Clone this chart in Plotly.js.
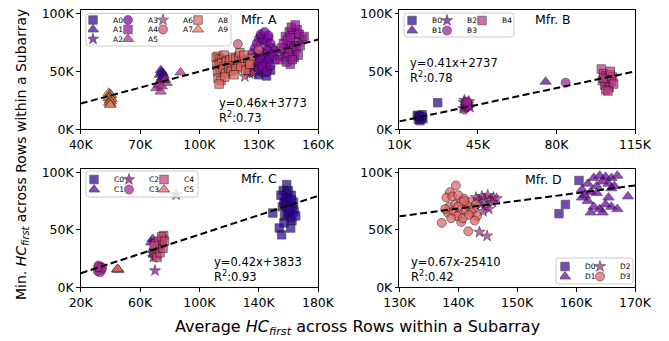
<!DOCTYPE html>
<html><head><meta charset="utf-8">
<script src="https://cdn.plot.ly/plotly-3.0.1.min.js"></script>
<style>html,body{margin:0;padding:0;background:#fff}#chart{width:669px;height:341px}</style>
</head><body><div id="chart"></div>
<script>
// all values in thousands (K)
// ---------- Mfr. A ----------
const A0_x = [128.5,130.0,131.5,133.0,134.5,136.0,129.0,131.0,133.5,135.5,130.5,132.5,134.0];
const A0_y = [50.0,47.0,52.0,49.0,54.0,51.0,56.0,58.0,57.0,60.0,62.0,64.0,46.0];
const A1_x = [80.5,81.0,81.5,80.0,82.0,81.2,80.8,81.8];
const A1_y = [51.0,49.5,48.0,47.0,46.0,44.5,43.0,42.0];
const A2_x = [124.0,125.5,127.5,126.5,128.5,123.5];
const A2_y = [52.0,48.0,55.0,59.0,51.0,57.0];
const A3_x = [127,128,129,130,131,132,133,134,135,136,137,138,128.5,130.5,132.5,134.5,136.5,129.5,131.5,133.5,135.5,137.5,130,132,134,136,131,133,135,139];
const A3_y = [66,70,74,78,80,77,72,76,79,74,70,68,62,64,66,68,65,58,60,56,61,63,52,54,50,55,82,84,81,60];
const A4_x = [141,142,143,144,145,146,147,148,149,150,151,152,143.5,145.5,147.5,149.5,144,146,148,150,142.5,144.5,146.5,148.5,150.5,145,147,146,153,141.5];
const A4_y = [60,64,68,62,70,74,66,72,70,76,72,78,80,84,82,86,58,56,62,64,74,77,88,90,82,66,60,79,80,70];
const A5_x = [78.3,80.5,83.4,79.5,82.5,81.0,90.5];
const A5_y = [35.5,32.5,40.0,38.5,43.0,37.0,49.0];
const A6_x = [123.0,124.5,126.0,125.0,127.0];
const A6_y = [45.5,50.0,53.0,56.5,48.5];
const A7_x = [119.5,130.0,126.0,122.5];
const A7_y = [73.5,68.5,60.0,58.0];
const A8_x = [108.5,109.5,110.5,111.5,112.5,113.5,108.8,110.0,111.2,112.4,113.6,114.8,109.2,110.6,112.0,113.2,115.0,116.5,118.0,119.5,115.5,117.0,118.5,120.0,121.5,123.0,124.5,126.0,116.0,118.5,121.0,123.5,125.5,109.5,111.0,112.8,110.0,120.5,122.5,117.5];
const A8_y = [62,63,61,60,64,59,55,56,57,54,58,55,50,49,52,48,53,55,56,57,60,62,61,63,60,59,58,61,50,52,54,51,56,44,42,45,39,66,64,47];
const A9_x = [54.2,54.8,55.3,54.5,55.0,54.0,55.6,54.7,55.2,54.4,55.0,54.9];
const A9_y = [31.5,30.5,29.5,28.5,27.5,27.0,26.0,25.0,24.0,23.0,22.0,21.0];
// ---------- Mfr. B ----------
const B0_x = [18.0,19.0,20.0,19.5,18.5,20.5,19.2,18.8,20.2,27.1];
const B0_y = [12.0,11.0,10.5,9.5,8.5,9.0,7.5,11.5,12.5,22.9];
const B1_x = [75.2];
const B1_y = [41.0];
const B2_x = [38.5,39.5,40.5,41.0,39.0,40.0,41.5,38.8];
const B2_y = [18,20,22,24,25,21,19,23];
const B3_x = [39.0,40.0,41.0,39.5,40.5,40.2,84.1];
const B3_y = [17,19,21,23,20,24,40.2];
const B4_x = [100.0,101.0,102.0,103.0,104.0,105.0,100.5,102.5,104.5,101.5,103.5,105.5,102.0,103.0,101.0,104.0];
const B4_y = [52.0,48.0,46.0,44.0,47.0,45.0,42.0,40.0,41.0,38.0,36.0,39.0,34.0,33.0,44.0,50.0];
// ---------- Mfr. C ----------
const C0_x = [149.5,155.5,153.9,161.6,158.9,156,157,158,159,160,161,162,163,164,157.5,159.5,161.5,163.5,156.5,158.5,160.5,162.5,157,159,161,160,158,162,165,155];
const C0_y = [64.6,45.6,51.5,51.5,89.3,70,74,78,82,76,72,80,68,66,62,64,60,74,84,70,66,58,56,78,68,84,74,76,62,80];
const C1_x = [67.5,68.5,70.0];
const C1_y = [39.0,42.0,35.0];
const C2_x = [70.1,84.3,68.0,69.0];
const C2_y = [14.5,80.5,30.0,26.0];
const C3_x = [31.5,32.5,33.5,34.0,32.0,33.0,34.5,31.8];
const C3_y = [14,16,18,15,19,13,17,17.5];
const C4_x = [69,70,71,72,73,74,75,76,70.5,72.5,74.5,71.5,73.5,75.5,69.5,76.5];
const C4_y = [30,32,28,34,36,38,42,45,38,40,44,26,30,34,36,40];
const C5_x = [44.5,45.5,45.0];
const C5_y = [15.5,15.0,16.0];
// ---------- Mfr. D ----------
const D0_x = [160.5,158.2,157.1];
const D0_y = [92.8,72.0,64.0];
const D1_x = [161,162,163,164,165,166,167,161.5,162.5,163.5,164.5,165.5,166.5,162,163,164,165,166,167,161,163.5,165.5,168.8,162.5,164.5,166];
const D1_y = [85,90,95,97,96,95,97,80,83,88,92,90,88,75,70,68,72,70,68,78,82,78,79,65,65,86];
const D2_x = [143.0,143.5,144.0,144.5,145.0,145.5,146.0,146.5,143.8,144.8,145.8,144.2,145.2,143.6,144.9];
const D2_y = [78,76,79,77,80,76,78,77,72,70,74,66,68,48,44.6];
const D3_x = [139.6,138.6,137.2,140.5,141.7,138.0,139.0,140.0,141.0,142.0,143.0,138.5,139.5,140.5,141.5,142.5,138.2,139.2,140.2,141.2,142.2,143.2,139.8,140.8,141.8,138.8,137.8,142.8,140.0,141.0];
const D3_y = [88.5,82.7,56.0,56.8,48.7,78,79,80,77,74,72,70,72,74,71,68,65,66,64,67,65,62,62,60,63,60,68,58,70,75];

// fits: slope, intercept (raw units), R^2
const FIT_A = [0.46, 3773, 0.73];
const FIT_B = [0.41, 2737, 0.78];
const FIT_C = [0.42, 3833, 0.93];
const FIT_D = [0.67, -25410, 0.42];

// tick labels
const A_xticks = [40,70,100,130,160];
const B_xticks = [10,45,80,115];
const C_xticks = [20,60,100,140,180];
const D_xticks = [130,140,150,160,170];
const Y_ticks = [0,50,100];

// colours (plasma samples)
const A_colors = ['#2d0596','#49039f','#6600a7','#8205a7','#9a159f','#b12a90','#c43f7f','#d4526f','#e36760','#ef7e50'];
const B_colors = ['#2d0596','#5402a3','#7e03a8','#a11b9b','#bf3984'];
const C_colors = ['#2d0596','#5a01a5','#8808a6','#ab2494','#ca4579','#e16462'];
const D_colors = ['#41049d','#6a00a8','#b12a90','#e16462'];

const SYMS = ['square','triangle-up','star','circle'];
const SIZES = {'square':8.5,'triangle-up':10,'star':8.5,'circle':9};

const W = 669, H = 341;
const PX = p => p / W, PY = p => 1 - p / H;

const panels = [
  {ax:'', names:['A0','A1','A2','A3','A4','A5','A6','A7','A8','A9'],
   xs:[A0_x,A1_x,A2_x,A3_x,A4_x,A5_x,A6_x,A7_x,A8_x,A9_x], ys:[A0_y,A1_y,A2_y,A3_y,A4_y,A5_y,A6_y,A7_y,A8_y,A9_y],
   colors:A_colors, rows:[0,1,2,0,1,2,0,1,0,1], legends:['legend','legend2','legend3'], fit:FIT_A, xticks:A_xticks},
  {ax:'2', names:['B0','B1','B2','B3','B4'], xs:[B0_x,B1_x,B2_x,B3_x,B4_x], ys:[B0_y,B1_y,B2_y,B3_y,B4_y],
   colors:B_colors, rows:[0,1,0,1,0], legends:['legend4','legend5'], fit:FIT_B, xticks:B_xticks},
  {ax:'3', names:['C0','C1','C2','C3','C4','C5'], xs:[C0_x,C1_x,C2_x,C3_x,C4_x,C5_x], ys:[C0_y,C1_y,C2_y,C3_y,C4_y,C5_y],
   colors:C_colors, rows:[0,1,0,1,0,1], legends:['legend6','legend7'], fit:FIT_C, xticks:C_xticks},
  {ax:'4', names:['D0','D1','D2','D3'], xs:[D0_x,D1_x,D2_x,D3_x], ys:[D0_y,D1_y,D2_y,D3_y],
   colors:D_colors, rows:[0,1,0,1], legends:['legend8','legend9'], fit:FIT_D, xticks:D_xticks}
];

const data = [];
panels.forEach(p => {
  p.names.forEach((n, i) => {
    const sym = SYMS[i % 4];
    data.push({type:'scatter', mode:'markers', name:n, x:p.xs[i], y:p.ys[i],
      xaxis:'x'+p.ax, yaxis:'y'+p.ax, legend:p.legends[p.rows[i]],
      marker:{symbol:sym, size:SIZES[sym], color:p.colors[i], opacity:0.72,
              line:{width:0.7, color:'#111'}}, hoverinfo:'skip'});
  });
});
panels.forEach(p => {
  const x0 = p.xticks[0], x1 = p.xticks[p.xticks.length-1];
  const f = p.fit;
  data.push({type:'scatter', mode:'lines', x:[x0,x1], y:[f[0]*x0 + f[1]/1000, f[0]*x1 + f[1]/1000],
    xaxis:'x'+p.ax, yaxis:'y'+p.ax, showlegend:false, hoverinfo:'skip',
    line:{color:'#000', width:2, dash:'7px,3.5px'}});
});

const FONT = 'DejaVu Sans, sans-serif';
function xax(ticks, dom, anchor) {
  return {domain:dom, anchor:anchor, range:[ticks[0], ticks[ticks.length-1]], tickvals:ticks, ticktext:ticks.map(t=>t+'K'),
    showgrid:false, zeroline:false, showline:true, mirror:true, linecolor:'#000', linewidth:1,
    ticks:'outside', ticklen:3.5, tickwidth:1, tickcolor:'#000', tickfont:{family:FONT, size:12.5, color:'#000'}};
}
function yax(top, dom, anchor) {
  return {domain:dom, anchor:anchor, range:[0, top], tickvals:Y_ticks, ticktext:Y_ticks.map(t=>t+'K'),
    showgrid:false, zeroline:false, showline:true, mirror:true, linecolor:'#000', linewidth:1,
    ticks:'outside', ticklen:3.5, tickwidth:1, tickcolor:'#000', tickfont:{family:FONT, size:12.5, color:'#000'}};
}
const XL = [PX(80.7), PX(318)], XR = [PX(399.3), PX(635)];
const YT = [PY(129.3), PY(9.5)], YB = [PY(287.3), PY(169)];

const layout = {
  width:W, height:H, margin:{l:0,r:0,t:0,b:0}, paper_bgcolor:'#fff', plot_bgcolor:'#fff',
  font:{family:FONT, color:'#000'},
  xaxis:xax(A_xticks, XL, 'y'), yaxis:yax(103.3, YT, 'x'),
  xaxis2:xax(B_xticks, XR, 'y2'), yaxis2:yax(103.3, YT, 'x2'),
  xaxis3:xax(C_xticks, XL, 'y3'), yaxis3:yax(102.8, YB, 'x3'),
  xaxis4:xax(D_xticks, XR, 'y4'), yaxis4:yax(102.8, YB, 'x4'),
  annotations:[], shapes:[]
};

// legends: one per legend row
const LEG_SP = 35, IND = -15;
const legPos = [
  ['legend',93,20],['legend2',93,29.5],['legend3',93,39],
  ['legend4',412,20.5],['legend5',412,30.5],
  ['legend6',94,179.5],['legend7',94,189.5],
  ['legend8',565,266.5],['legend9',565,276.5]
];
legPos.forEach(([id, sx, sy]) => {
  layout[id] = {x:PX(sx - 5), xanchor:'left', y:PY(sy), yanchor:'middle',
    orientation:'h', entrywidth:LEG_SP - 5 - (40 + IND), entrywidthmode:'pixels', indentation:IND,
    bgcolor:'rgba(0,0,0,0)', borderwidth:0, font:{family:FONT, size:7.5, color:'#000'}, itemclick:false, itemdoubleclick:false};
});

// legend frames
function roundRect(x0,y0,x1,y1,r){
  const X=PX, Y=PY;
  return `M${X(x0+r)},${Y(y0)} L${X(x1-r)},${Y(y0)} Q${X(x1)},${Y(y0)} ${X(x1)},${Y(y0+r)} L${X(x1)},${Y(y1-r)} Q${X(x1)},${Y(y1)} ${X(x1-r)},${Y(y1)} L${X(x0+r)},${Y(y1)} Q${X(x0)},${Y(y1)} ${X(x0)},${Y(y1-r)} L${X(x0)},${Y(y0+r)} Q${X(x0)},${Y(y0)} ${X(x0+r)},${Y(y0)} Z`;
}
[[86,13.5,231,46],[404,13,514,37],[86,171,198,197],[556,258,633,284]].forEach(b => {
  layout.shapes.push({type:'path', xref:'paper', yref:'paper', path:roundRect(b[0],b[1],b[2],b[3],3),
    fillcolor:'rgba(255,255,255,0.8)', line:{color:'#cccccc', width:1}, layer:'above'});
});

function ann(text, x, y, opts) {
  layout.annotations.push(Object.assign({text, x:PX(x), y:PY(y), xref:'paper', yref:'paper',
    showarrow:false, xanchor:'center', yanchor:'middle', font:{family:FONT, size:12.5, color:'#000'}}, opts||{}));
}
ann('Mfr. A', 259, 20);
ann('Mfr. B', 553, 20);
ann('Mfr. C', 259, 178.5);
ann('Mfr. D', 543, 179.5);

function eq(fit, x, yc) {
  const s = fit[1] >= 0 ? '+' : '-';
  ann(`y=${fit[0].toFixed(2)}x${s}${Math.abs(fit[1])}<br>R<sup>2</sup>:${fit[2].toFixed(2)}`, x, yc,
      {xanchor:'left', align:'left', font:{family:FONT, size:11.5, color:'#000'}});
}
eq(FIT_A, 217, 110.5);
eq(FIT_B, 408, 70.5);
eq(FIT_C, 212, 269);
eq(FIT_D, 409, 269);

ann('Min. <i>HC</i><sub><i>first</i></sub> across Rows within a Subarray', 22, 155, {textangle:-90, font:{family:FONT, size:14, color:'#000'}});
ann('Average <i>HC</i><sub><i>first</i></sub> across Rows within a Subarray', 358, 327, {font:{family:FONT, size:16, color:'#000'}});

Plotly.newPlot('chart', data, layout, {staticPlot:true, displayModeBar:false});
</script>
</body></html>
